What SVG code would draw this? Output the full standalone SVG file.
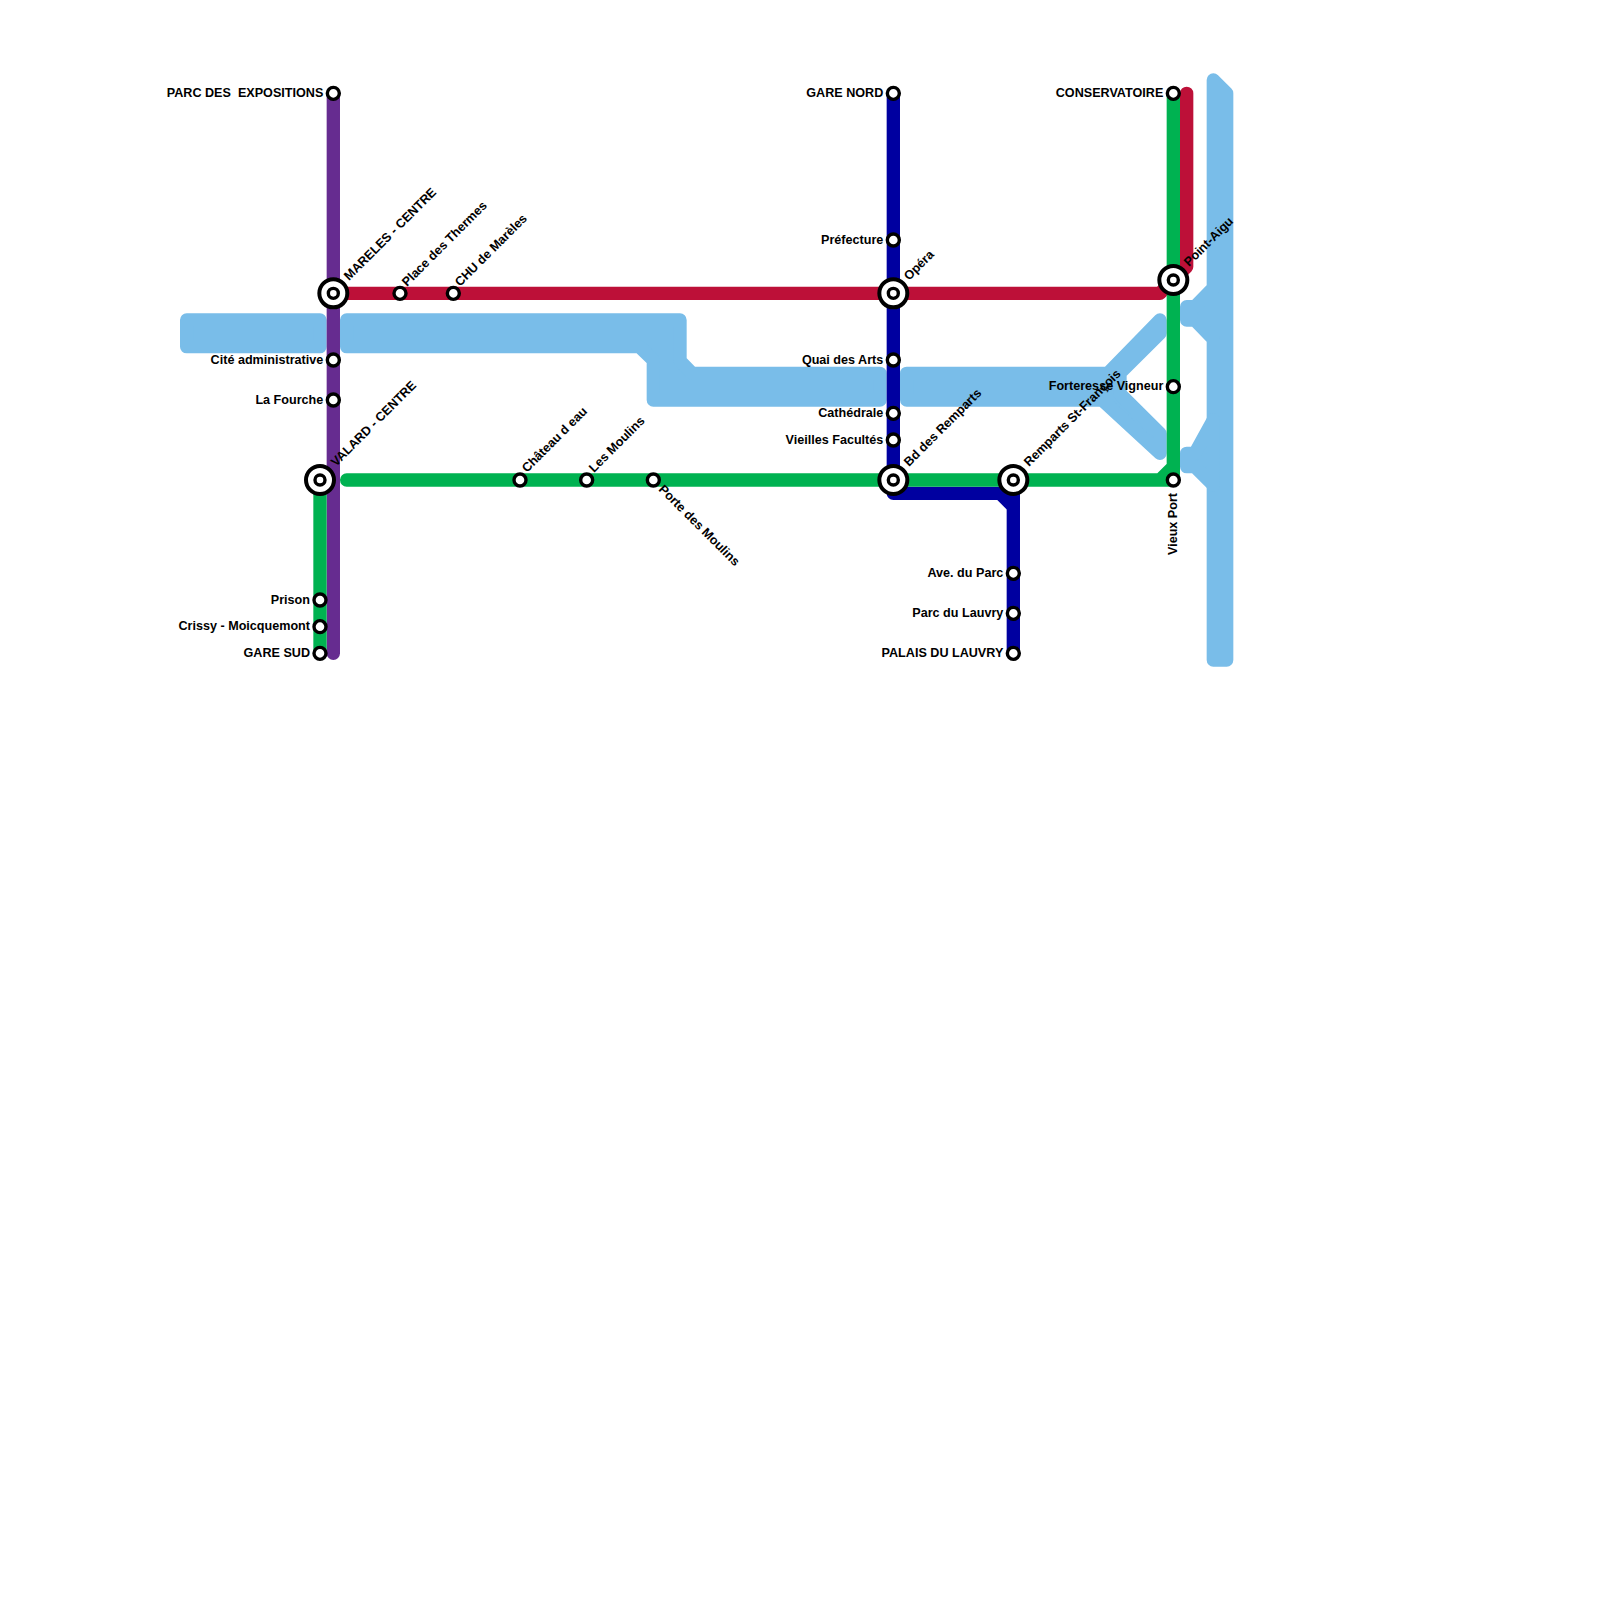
<svg xmlns="http://www.w3.org/2000/svg" width="1600" height="1600" viewBox="0 0 1600 1600">
<style>
text{font-family:"Liberation Sans",Arial,sans-serif;font-weight:700;font-size:12.6px;fill:#000;white-space:pre}
.e{text-anchor:end}
.w{fill:#79bde9;stroke:#79bde9;stroke-width:13.33;stroke-linejoin:round}
.l{fill:none;stroke-width:13.33;stroke-linecap:round;stroke-linejoin:round}
.s{fill:#fff;stroke:#000;stroke-width:3.4}
.o{fill:#fff;stroke:#000;stroke-width:4}
</style>
<rect width="1600" height="1600" fill="#fff"/>
<g id="water">
<path class="w" d="M186.67 320H320V346.67H186.67Z"/>
<path class="w" d="M346.67 320H680V360.8L692.2 373.33H880V400H653.33V360.2L639.4 346.67H346.67Z"/>
<path class="w" d="M906.67 373.33H1107.8L1160 320L1160 333.3L1120 373V393.8L1160 433.5V453.3L1102.2 400H906.67Z"/>
<path class="w" d="M1213.33 80L1226.67 93.33V660H1213.33V339L1195 320H1186.67V306.67H1195L1213.33 288Z"/>
<path class="w" d="M1213.33 420L1195 453.33H1186.67V466.67H1195L1213.33 485Z"/>
</g>
<g id="connectors">
<path class="l" stroke="#bd1038" d="M333.33 293.33H1160L1186.67 266.67V93.33"/>
<path class="l" stroke="#662c90" d="M333.33 93.33V653.33"/>
<path class="l" stroke="#0000a0" d="M893.33 93.33V493.33H1000L1013.33 506.67V653.33M1013.33 480V653.33"/>
<path class="l" stroke="#00b251" d="M320 480V653.33M346.67 480H1173.33M1160 480L1173.33 466.67M1173.33 93.33V480"/>
</g>
<g id="n-parc"><circle class="s" cx="333.33" cy="93.33" r="6"/><text class="e" x="323.3" y="96.5">PARC DES  EXPOSITIONS</text></g>
<g id="n-mareles"><circle class="o" cx="333.33" cy="293.33" r="14"/><circle class="s" cx="333.33" cy="293.33" r="5"/><text transform="rotate(-45 349 281)" x="349" y="281">MARELES - CENTRE</text></g>
<g id="n-thermes"><circle class="s" cx="400" cy="293.33" r="6"/><text transform="rotate(-45 407 287)" x="407" y="287">Place des Thermes</text></g>
<g id="n-chu"><circle class="s" cx="453.33" cy="293.33" r="6"/><text transform="rotate(-45 460 287)" x="460" y="287">CHU de Marèles</text></g>
<g id="n-cite"><circle class="s" cx="333.33" cy="360" r="6"/><text class="e" x="323.3" y="363.5">Cité administrative</text></g>
<g id="n-fourche"><circle class="s" cx="333.33" cy="400" r="6"/><text class="e" x="323.3" y="403.5">La Fourche</text></g>
<g id="n-valard"><circle class="o" cx="320" cy="480" r="14"/><circle class="s" cx="320" cy="480" r="5"/><text transform="rotate(-45 336 467)" x="336" y="467">VALARD - CENTRE</text></g>
<g id="n-prison"><circle class="s" cx="320" cy="600" r="6"/><text class="e" x="310" y="603.5">Prison</text></g>
<g id="n-crissy"><circle class="s" cx="320" cy="626.67" r="6"/><text class="e" x="310" y="630">Crissy - Moicquemont</text></g>
<g id="n-garesud"><circle class="s" cx="320" cy="653.33" r="6"/><text class="e" x="310" y="656.5">GARE SUD</text></g>
<g id="n-chateau"><circle class="s" cx="520" cy="480" r="6"/><text transform="rotate(-45 527 473)" x="527" y="473">Château d eau</text></g>
<g id="n-moulins"><circle class="s" cx="586.67" cy="480" r="6"/><text transform="rotate(-45 594 473)" x="594" y="473">Les Moulins</text></g>
<g id="n-porte"><circle class="s" cx="653.33" cy="480" r="6"/><text transform="rotate(45 658 490)" x="658" y="490">Porte des Moulins</text></g>
<g id="n-garenord"><circle class="s" cx="893.33" cy="93.33" r="6"/><text class="e" x="883.3" y="96.5">GARE NORD</text></g>
<g id="n-prefecture"><circle class="s" cx="893.33" cy="240" r="6"/><text class="e" x="883.3" y="243.5">Préfecture</text></g>
<g id="n-opera"><circle class="o" cx="893.33" cy="293.33" r="14"/><circle class="s" cx="893.33" cy="293.33" r="5"/><text transform="rotate(-45 909 281)" x="909" y="281">Opéra</text></g>
<g id="n-quai"><circle class="s" cx="893.33" cy="360" r="6"/><text class="e" x="883.3" y="363.5">Quai des Arts</text></g>
<g id="n-cathedrale"><circle class="s" cx="893.33" cy="413.33" r="6"/><text class="e" x="883.3" y="416.5">Cathédrale</text></g>
<g id="n-vieilles"><circle class="s" cx="893.33" cy="440" r="6"/><text class="e" x="883.3" y="443.5">Vieilles Facultés</text></g>
<g id="n-bd"><circle class="o" cx="893.33" cy="480" r="14"/><circle class="s" cx="893.33" cy="480" r="5"/><text transform="rotate(-45 909 467)" x="909" y="467">Bd des Remparts</text></g>
<g id="n-remparts"><circle class="o" cx="1013.33" cy="480" r="14"/><circle class="s" cx="1013.33" cy="480" r="5"/><text transform="rotate(-45 1029 467)" x="1029" y="467">Remparts St-François</text></g>
<g id="n-ave"><circle class="s" cx="1013.33" cy="573.33" r="6"/><text class="e" x="1003.3" y="576.5">Ave. du Parc</text></g>
<g id="n-lauvry"><circle class="s" cx="1013.33" cy="613.33" r="6"/><text class="e" x="1003.3" y="616.5">Parc du Lauvry</text></g>
<g id="n-palais"><circle class="s" cx="1013.33" cy="653.33" r="6"/><text class="e" x="1003.3" y="656.5">PALAIS DU LAUVRY</text></g>
<g id="n-conservatoire"><circle class="s" cx="1173.33" cy="93.33" r="6"/><text class="e" x="1163.3" y="96.5">CONSERVATOIRE</text></g>
<g id="n-pointaigu"><circle class="o" cx="1173.33" cy="280" r="14"/><circle class="s" cx="1173.33" cy="280" r="5"/><text transform="rotate(-45 1189 267)" x="1189" y="267">Point-Aigu</text></g>
<g id="n-forteresse"><circle class="s" cx="1173.33" cy="386.67" r="6"/><text class="e" x="1163.3" y="390">Forteresse Vigneur</text></g>
<g id="n-vieuxport"><circle class="s" cx="1173.33" cy="480" r="6"/><text transform="rotate(-90 1176.7 555)" x="1176.7" y="555">Vieux Port</text></g>
</svg>
